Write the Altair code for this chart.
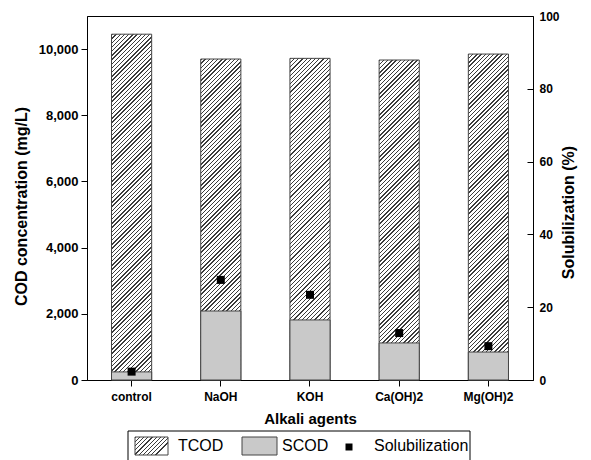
import altair as alt
import pandas as pd

# ---- data ----
agents = ["control", "NaOH", "KOH", "Ca(OH)2", "Mg(OH)2"]
tcod = [10450, 9700, 9720, 9670, 9850]
scod = [245, 2085, 1815, 1120, 845]
solub = [2.3, 27.5, 23.4, 12.9, 9.3]
left_ticks = [0, 2000, 4000, 6000, 8000, 10000]
right_ticks = [0, 20, 40, 60, 80, 100]

df = pd.DataFrame({"agent": agents, "TCOD": tcod, "SCOD": scod, "Sol": solub})

# ---- layout / style ----
W, H = 446, 364
YMAX = 11000
FONT = "Liberation Sans"
P_IN, P_OUT = 0.55, 0.275
BAR_W = W / 5 * (1 - P_IN)
INK = "#3c3c3c"
GRAY = "#c9c9c9"
EDGE = "#444444"


def hatch(w, h, period=4.2, lw=1.3, ink=INK, bg="white"):
    """Diagonal '////' hatch built from a linear gradient with hard stops."""
    R = (w * w + h * h) / w
    stops = []
    s = 0.0
    while s < R:
        a = round(s / R, 6)
        b = round(min((s + lw) / R, 1.0), 6)
        stops += [
            {"offset": a, "color": bg},
            {"offset": a, "color": ink},
            {"offset": b, "color": ink},
            {"offset": b, "color": bg},
        ]
        s += period
    stops.append({"offset": 1, "color": bg})
    return {"gradient": "linear", "x1": 0, "y1": 0, "x2": 1, "y2": h / w, "stops": stops}


xenc = alt.X(
    "agent:N",
    sort=agents,
    scale=alt.Scale(paddingInner=P_IN, paddingOuter=P_OUT),
    axis=alt.Axis(
        title="Alkali agents", labelAngle=0, labelFont=FONT, labelFontSize=12,
        labelFontWeight="bold", labelColor="black", labelPadding=5,
        tickColor="black", tickSize=6, tickWidth=1, domainColor="black",
        titleFont=FONT, titleFontSize=15, titleFontWeight="bold", titleColor="black",
        titleY=38, titleBaseline="middle", grid=False,
    ),
)

left_axis = alt.Axis(
    title="COD concentration (mg/L)", values=left_ticks, format=",.0f",
    labelFont=FONT, labelFontSize=13, labelFontWeight="bold", labelColor="black",
    labelPadding=3, tickColor="black", tickSize=6, domainColor="black",
    titleFont=FONT, titleFontSize=16, titleFontWeight="bold", titleColor="black",
    titleAngle=270, titleX=-66, titleY=190, titleAlign="center",
    titleBaseline="middle", grid=False,
)
yscale = alt.Scale(domain=[0, YMAX], nice=False)

tcod_layers = []
for i, a in enumerate(agents):
    hpx = tcod[i] / YMAX * H
    tcod_layers.append(
        alt.Chart(df)
        .transform_filter(alt.datum.agent == a)
        .mark_bar(fill=hatch(BAR_W, hpx), stroke=EDGE, strokeWidth=1)
        .encode(x=xenc, y=alt.Y("TCOD:Q", scale=yscale, axis=left_axis))
    )

scod_layer = (
    alt.Chart(df)
    .mark_bar(fill=GRAY, stroke=EDGE, strokeWidth=1)
    .encode(x=xenc, y=alt.Y("SCOD:Q", scale=yscale, axis=left_axis))
)

bars = alt.layer(*tcod_layers, scod_layer)

rscale = alt.Scale(domain=[0, 100], nice=False)
points = (
    alt.Chart(df)
    .mark_square(size=64, color="black", opacity=1)
    .encode(
        x=xenc,
        y=alt.Y(
            "Sol:Q", scale=rscale,
            axis=alt.Axis(
                orient="right", title="Solubilization (%)", values=right_ticks,
                labelFont=FONT, labelFontSize=12, labelFontWeight="bold",
                labelColor="black", labelPadding=6, ticks=False,
                domainColor="black", titleFont=FONT, titleFontSize=16,
                titleFontWeight="bold", titleColor="black", titleAngle=270,
                titleX=35, titleY=196, titleAlign="center",
                titleBaseline="middle", grid=False,
            ),
        ),
    )
)

# inward ticks of the right axis
inward = (
    alt.Chart(df)
    .mark_point(opacity=0)
    .encode(
        x=xenc,
        y=alt.Y(
            "Sol:Q", scale=rscale,
            axis=alt.Axis(
                orient="left", offset=-W, labels=False, domain=False,
                values=right_ticks[1:-1], tickSize=6, tickColor="black",
                title=None, grid=False,
            ),
        ),
    )
)

# ---- legend drawn below the plot ----
one = alt.Data(values=[{"k": 1}])
LY = 430
legend = [
    alt.Chart(one).mark_rect(fill=None, stroke="black", strokeWidth=1).encode(
        x=alt.value(41), x2=alt.value(383), y=alt.value(415), y2=alt.value(450)),
    alt.Chart(one).mark_rect(fill=hatch(33, 18), stroke=EDGE, strokeWidth=1).encode(
        x=alt.value(48), x2=alt.value(81), y=alt.value(421), y2=alt.value(439)),
    alt.Chart(one).mark_text(text="TCOD", align="left", baseline="middle",
                             font=FONT, fontSize=16, color="black").encode(
        x=alt.value(91), y=alt.value(LY)),
    alt.Chart(one).mark_rect(fill=GRAY, stroke=EDGE, strokeWidth=1).encode(
        x=alt.value(155), x2=alt.value(190), y=alt.value(421), y2=alt.value(439)),
    alt.Chart(one).mark_text(text="SCOD", align="left", baseline="middle",
                             font=FONT, fontSize=16, color="black").encode(
        x=alt.value(195), y=alt.value(LY)),
    alt.Chart(one).mark_square(size=49, color="black", opacity=1).encode(
        x=alt.value(262), y=alt.value(LY + 1)),
    alt.Chart(one).mark_text(text="Solubilization", align="left", baseline="middle",
                             font=FONT, fontSize=16, color="black").encode(
        x=alt.value(287), y=alt.value(LY)),
]

chart = (
    alt.layer(bars, points, inward, *legend)
    .resolve_scale(y="independent")
    .properties(
        width=W, height=H,
        autosize=alt.AutoSizeParams(type="none"),
        padding={"left": 79, "top": 8, "right": 50, "bottom": 80},
        background="white",
    )
    .configure_view(stroke="black", strokeWidth=1)
)

chart.save("out.html", embed_options={"renderer": "svg", "actions": False})
